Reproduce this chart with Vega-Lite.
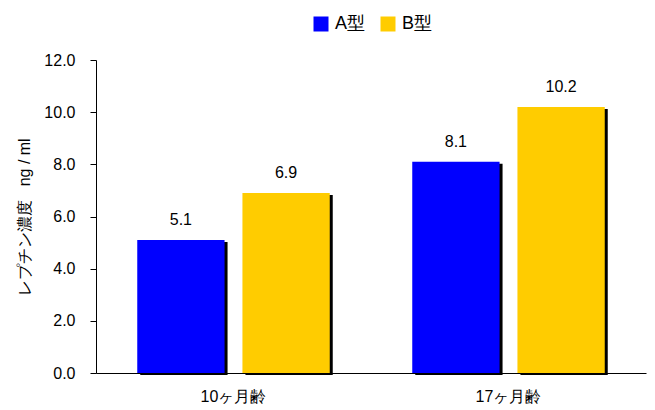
{
  "$schema": "https://vega.github.io/schema/vega-lite/v6.json",
  "autosize": "none",
  "width": 550,
  "height": 313,
  "padding": {"left": 96, "top": 60, "right": 9, "bottom": 37},
  "background": "white",
  "config": {
    "font": "Liberation Sans",
    "view": {"stroke": null},
    "axis": {
      "labelFontSize": 16, "labelColor": "black",
      "titleFontSize": 16, "titleFontWeight": "normal", "titleColor": "black",
      "domainColor": "black", "tickColor": "black", "grid": false
    },
    "legend": {"labelFontSize": 18, "labelColor": "black"}
  },
  "data": {
    "values": [
      {"age": "10ヶ月齢", "type": "A型", "value": 5.1},
      {"age": "10ヶ月齢", "type": "B型", "value": 6.9},
      {"age": "17ヶ月齢", "type": "A型", "value": 8.1},
      {"age": "17ヶ月齢", "type": "B型", "value": 10.2}
    ]
  },
  "encoding": {
    "x": {
      "field": "age", "type": "nominal",
      "scale": {"paddingInner": 0.3, "paddingOuter": 0.15},
      "axis": {"title": null, "labelAngle": 0, "ticks": false, "labelPadding": 15}
    },
    "y": {
      "field": "value", "type": "quantitative",
      "scale": {"domain": [0, 12], "nice": false},
      "axis": {
        "title": "レプチン濃度\u00a0\u00a0\u00a0ng / ml", "titlePadding": 11,
        "values": [0, 2, 4, 6, 8, 10, 12], "format": ".1f",
        "labelPadding": 15, "tickSize": 6
      }
    }
  },
  "layer": [
    {
      "mark": {"type": "bar", "color": "black", "yOffset": 2},
      "encoding": {
        "xOffset": {
          "field": "type", "type": "nominal",
          "scale": {"paddingInner": 0.17, "paddingOuter": 0, "range": [3, 195.5]}
        }
      }
    },
    {
      "encoding": {
        "xOffset": {
          "field": "type", "type": "nominal",
          "scale": {"paddingInner": 0.17, "paddingOuter": 0}
        }
      },
      "layer": [
        {
          "mark": {"type": "bar"},
          "encoding": {
            "color": {
              "field": "type", "type": "nominal",
              "scale": {"domain": ["A型", "B型"], "range": ["#0000FF", "#FFCC00"]},
              "legend": {
                "title": null, "orient": "none", "legendX": 216, "legendY": -45,
                "direction": "horizontal", "symbolType": "square", "symbolSize": 225,
                "symbolStrokeWidth": 0, "symbolOpacity": 1,
                "labelOffset": 5, "columnPadding": 13
              }
            }
          }
        },
        {
          "mark": {"type": "text", "baseline": "alphabetic", "dy": -15, "fontSize": 16, "color": "black"},
          "encoding": {
            "text": {"field": "value", "type": "quantitative", "format": ".1f"}
          }
        }
      ]
    }
  ],
  "resolve": {"scale": {"xOffset": "independent"}}
}
